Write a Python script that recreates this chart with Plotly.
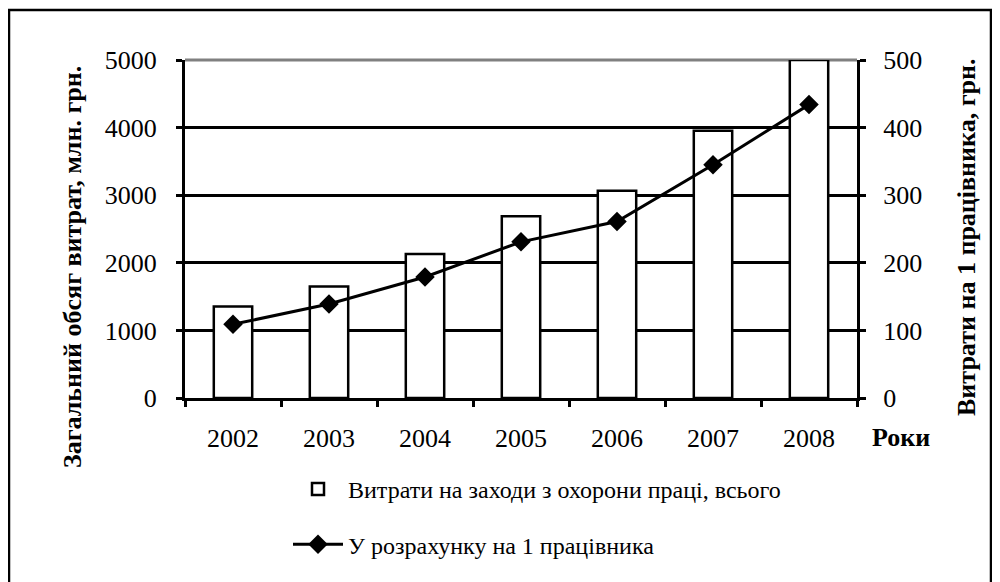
import plotly.graph_objects as go

# дані
years = ["2002", "2003", "2004", "2005", "2006", "2007", "2008"]
total_costs = [1355, 1650, 2130, 2690, 3065, 3955, 5000]   # млн. грн.
per_worker = [109, 139, 179, 231, 261, 345, 434]            # грн.

# сторінка має відступ body 8px, тому фігура трохи менша
OFF = 8
W, H = 992, 574
L, R, T, B = 177, 143, 52, 184
pw, ph = W - L - R, H - T - B

def px_x(x):
    # x у координатах сторінки -> paper
    return (x - OFF - L) / pw

def px_y(y):
    return 1 - (y - OFF - T) / ph

FONT = "Liberation Serif, Times New Roman, DejaVu Serif, serif"

fig = go.Figure()
fig.add_trace(go.Bar(
    x=years, y=total_costs,
    name="Витрати на заходи з охорони праці, всього",
    marker=dict(color="white", line=dict(color="black", width=2.5)),
    legendgroup="a",
))
fig.add_trace(go.Scatter(
    x=years, y=per_worker, yaxis="y2",
    mode="lines+markers",
    name="У розрахунку на 1 працівника",
    line=dict(color="black", width=3),
    marker=dict(symbol="diamond", size=15, color="black"),
    legendgroup="b",
))

fig.update_layout(
    width=W, height=H,
    margin=dict(l=L, r=R, t=T, b=B),
    paper_bgcolor="white", plot_bgcolor="white",
    font=dict(family=FONT, size=24, color="black"),
    bargap=0.6,
    showlegend=True,
    legend=dict(
        x=px_x(288), y=px_y(467), xanchor="left", yanchor="top",
        traceorder="grouped", tracegroupgap=21,
        font=dict(family=FONT, size=24),
        itemwidth=50,
    ),
    xaxis=dict(
        type="category", range=[-0.5, 6.5],
        showline=True, linecolor="black", linewidth=3,
        ticks="outside", ticklen=6, tickwidth=3, tickcolor="black",
        tickson="boundaries", ticklabelstandoff=15,
        tickfont=dict(family=FONT, size=26),
        showgrid=False,
    ),
    yaxis=dict(
        range=[0, 5000], dtick=1000,
        showline=True, linecolor="black", linewidth=3,
        ticks="outside", ticklen=6, tickwidth=3, tickcolor="black",
        showgrid=True, gridcolor="black", gridwidth=2.5,
        zeroline=False, ticklabelstandoff=14,
        tickfont=dict(family=FONT, size=26),
    ),
    yaxis2=dict(
        range=[0, 500], dtick=100, overlaying="y", side="right",
        showline=True, linecolor="black", linewidth=3,
        ticks="outside", ticklen=6, tickwidth=3, tickcolor="black",
        showgrid=False, zeroline=False, ticklabelstandoff=12,
        tickfont=dict(family=FONT, size=26),
    ),
    shapes=[
        dict(type="line", xref="paper", yref="paper", x0=0, x1=1, y0=1, y1=1,
             line=dict(color="#808080", width=3), layer="between"),
        dict(type="rect", xref="paper", yref="paper",
             x0=px_x(9), x1=px_x(991), y0=px_y(600), y1=px_y(10),
             line=dict(color="black", width=2.5)),
    ],
    annotations=[
        dict(text="<b>Загальний обсяг витрат, млн. грн.</b>", textangle=-90,
             xref="paper", yref="paper", x=px_x(72), y=px_y(267),
             xanchor="center", yanchor="middle", showarrow=False,
             font=dict(family=FONT, size=26)),
        dict(text="<b>Витрати на 1 працівника, грн.</b>", textangle=-90,
             xref="paper", yref="paper", x=px_x(966), y=px_y(238),
             xanchor="center", yanchor="middle", showarrow=False,
             font=dict(family=FONT, size=26)),
        dict(text="<b>Роки</b>", xref="paper", yref="paper",
             x=px_x(901), y=px_y(437), xanchor="center", yanchor="middle",
             showarrow=False, font=dict(family=FONT, size=26)),
    ],
)

fig.write_html("out.html")
